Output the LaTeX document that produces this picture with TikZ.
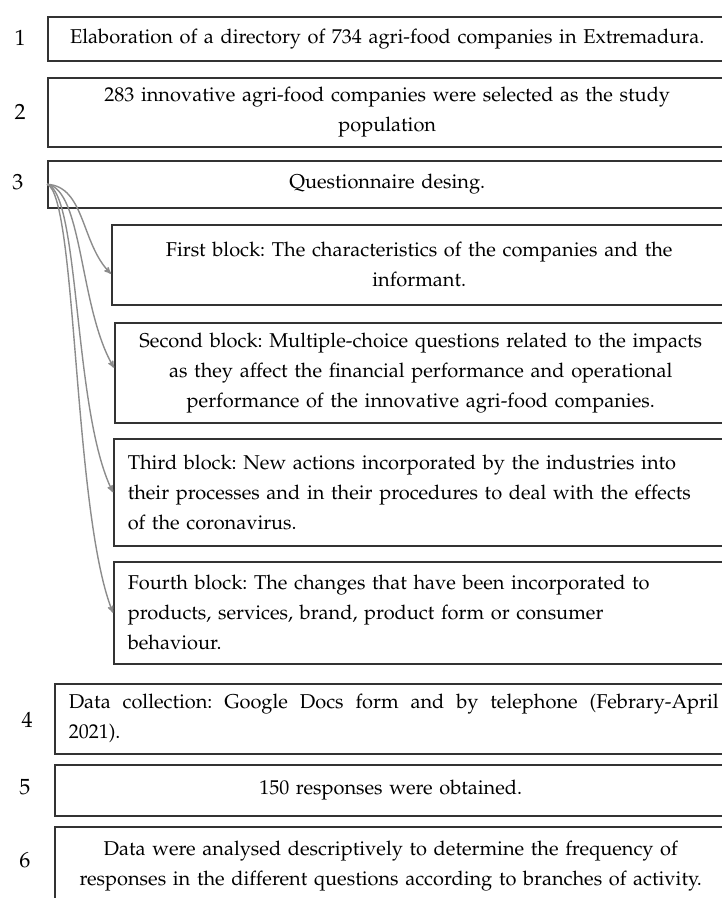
\documentclass[tikz,border=0pt]{standalone}
\usepackage[T1]{fontenc}
\usepackage{mathpazo}
\usetikzlibrary{arrows,positioning,calc}
\frenchspacing

\begin{document}
\begin{tikzpicture}[x=1pt, y=-1pt, >=stealth', semithick]
	\tikzstyle{every node}=[font=\fontsize{20}{30}\selectfont]
	\tikzstyle{stage}=[draw=black!80, line width=1.5pt, anchor=north west, inner xsep=14pt, inner ysep=0pt]
	\tikzstyle{num}=[font=\fontsize{22}{22}\selectfont]
	\tikzstyle{branch}=[->, draw=black!45, line width=1.4pt]
	\clip (0,0) rectangle (722,898);
	% numbers
	\node[num] (l1) at (20,38)  {1};
	\node[num] (l2) at (20,112) {2};
	\node[num] (l3) at (18,182) {3};
	\node[num] (l4) at (27,720) {4};
	\node[num] (l5) at (25,787) {5};
	\node[num] (l6) at (25,860) {6};
	% main steps
	\node[stage, minimum width=679pt, minimum height=44pt, text width=651pt, align=center] (s1) at (47,16)
		{Elaboration of a directory of 734 agri-food companies in Extremadura.};
	\node[stage, minimum width=679pt, minimum height=69pt, text width=651pt, align=center] (s2) at (47,77)
		{283 innovative agri-food companies were selected as the study\\population};
	\node[stage, minimum width=679pt, minimum height=47pt, text width=651pt, align=center] (s3) at (47,160)
		{Questionnaire desing.};
	% blocks of the questionnaire
	\node[stage, minimum width=615pt, minimum height=80pt, text width=587pt, align=center] (b1) at (111,224)
		{First block: The characteristics of the companies and the\\informant.};
	\node[stage, minimum width=612pt, minimum height=100pt, text width=584pt, align=center] (b2) at (114,322)
		{Second block: Multiple-choice questions related to the impacts\\as they affect the financial performance and operational\\performance of the innovative agri-food companies.};
	\node[stage, minimum width=613pt, minimum height=107pt, text width=640pt, align=left] (b3) at (113,438)
		{Third block: New actions incorporated by the industries into\\their processes and in their procedures to deal with the effects\\of the coronavirus.};
	\node[stage, minimum width=613pt, minimum height=102pt, text width=640pt, align=left] (b4) at (113,561)
		{Fourth block: The changes that have been incorporated to\\products, services, brand, product form or consumer\\behaviour.};
	% last steps
	\node[stage, minimum width=672pt, minimum height=70pt, text width=700pt, align=left] (s4) at (54,683)
		{\hbox to 650pt{Data\hfill collection:\hfill Google\hfill Docs\hfill form\hfill and\hfill by\hfill telephone\hfill (Febrary-April}\\2021).};
	\node[stage, minimum width=672pt, minimum height=51pt, text width=644pt, align=center] (s5) at (54,764)
		{150 responses were obtained.};
	\node[stage, minimum width=672pt, minimum height=79pt, text width=644pt, align=center] (s6) at (54,826)
		{Data were analysed descriptively to determine the frequency of\\responses in the different questions according to branches of activity.};
	% branches
	\draw[branch] (s3.west) .. controls +(38,2) and +(-30,-30) .. ([yshift=-9pt]b1.west);
	\draw[branch] (s3.west) .. controls +(36,5) and +(-35,-60) .. ([yshift=5pt]b2.west);
	\draw[branch] (s3.west) .. controls +(33,8) and +(-40,-80) .. (b3.west);
	\draw[branch] (s3.west) .. controls +(30,10) and +(-40,-100) .. (b4.west);
\end{tikzpicture}
\end{document}
